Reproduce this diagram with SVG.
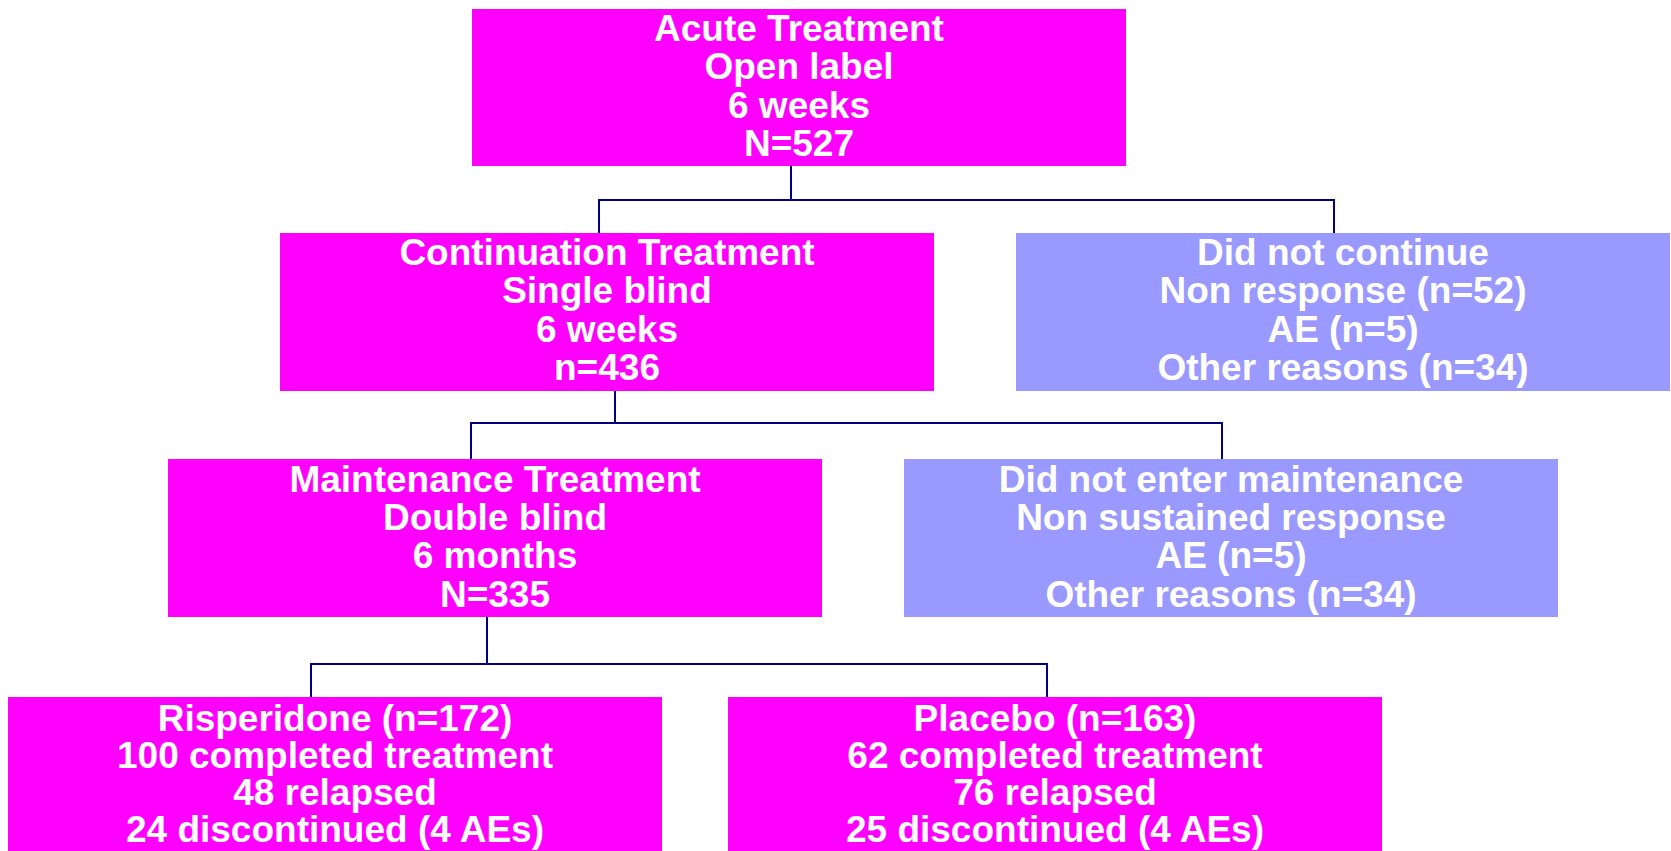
<svg xmlns="http://www.w3.org/2000/svg" width="1671" height="851" viewBox="0 0 1671 851">
<style>
.m{fill:#FF00FF}
.b{fill:#9999FF}
text{font-family:"Liberation Sans",Arial,sans-serif;font-weight:bold;font-size:37px;fill:#FFFFFF;text-anchor:middle}
.c{fill:none;stroke:#000080;stroke-width:2}
</style>
<rect width="1671" height="851" fill="#FFFFFF"/>
<g id="connectors">
<path class="c" d="M791,166V200M599,233V200H1334V233"/>
<path class="c" d="M615,391V423M471,459V423H1222V459"/>
<path class="c" d="M487,617V664M311,697V664H1047V697"/>
</g>
<g id="acute">
<rect class="m" x="472" y="9" width="654" height="157"/>
<text x="799" y="41">Acute Treatment</text>
<text x="799" y="79.3">Open label</text>
<text x="799" y="117.6">6 weeks</text>
<text x="799" y="156">N=527</text>
</g>
<g id="continuation">
<rect class="m" x="280" y="233" width="654" height="158"/>
<text x="607" y="265">Continuation Treatment</text>
<text x="607" y="303.3">Single blind</text>
<text x="607" y="341.6">6 weeks</text>
<text x="607" y="379.9">n=436</text>
</g>
<g id="didnotcontinue">
<rect class="b" x="1016" y="233" width="654" height="158"/>
<text x="1343" y="265">Did not continue</text>
<text x="1343" y="303.3">Non response (n=52)</text>
<text x="1343" y="341.6">AE (n=5)</text>
<text x="1343" y="379.9">Other reasons (n=34)</text>
</g>
<g id="maintenance">
<rect class="m" x="168" y="459" width="654" height="158"/>
<text x="495" y="491.7">Maintenance Treatment</text>
<text x="495" y="530">Double blind</text>
<text x="495" y="568.3">6 months</text>
<text x="495" y="606.6">N=335</text>
</g>
<g id="didnotenter">
<rect class="b" x="904" y="459" width="654" height="158"/>
<text x="1231" y="491.7">Did not enter maintenance</text>
<text x="1231" y="530">Non sustained response</text>
<text x="1231" y="568.3">AE (n=5)</text>
<text x="1231" y="606.6">Other reasons (n=34)</text>
</g>
<g id="risperidone">
<rect class="m" x="8" y="697" width="654" height="154"/>
<text x="335" y="731">Risperidone (n=172)</text>
<text x="335" y="768">100 completed treatment</text>
<text x="335" y="805">48 relapsed</text>
<text x="335" y="842">24 discontinued (4 AEs)</text>
</g>
<g id="placebo">
<rect class="m" x="728" y="697" width="654" height="154"/>
<text x="1055" y="731">Placebo (n=163)</text>
<text x="1055" y="768">62 completed treatment</text>
<text x="1055" y="805">76 relapsed</text>
<text x="1055" y="842">25 discontinued (4 AEs)</text>
</g>
</svg>
